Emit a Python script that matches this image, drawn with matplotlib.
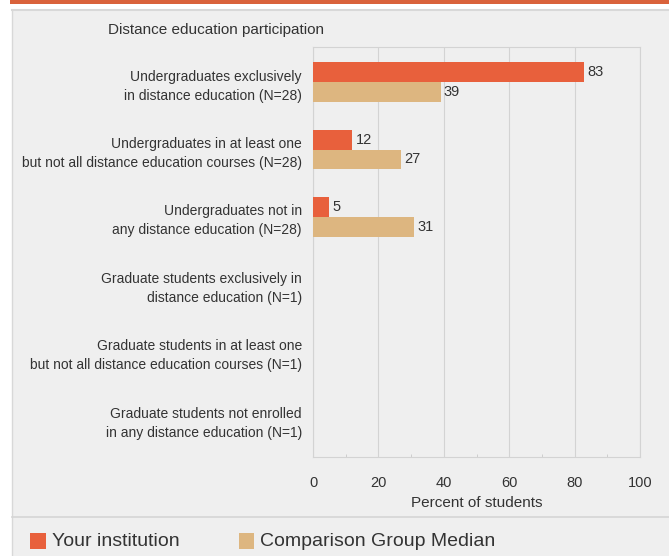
import matplotlib
matplotlib.use("Agg")
import matplotlib.pyplot as plt
from matplotlib.patches import Rectangle
from matplotlib.lines import Line2D
from matplotlib import font_manager

categories = [
    "Undergraduates exclusively\nin distance education (N=28)",
    "Undergraduates in at least one\nbut not all distance education courses (N=28)",
    "Undergraduates not in\nany distance education (N=28)",
    "Graduate students exclusively in\ndistance education (N=1)",
    "Graduate students in at least one\nbut not all distance education courses (N=1)",
    "Graduate students not enrolled\nin any distance education (N=1)",
]
your_institution = [83, 12, 5, None, None, None]
comparison_median = [39, 27, 31, None, None, None]
x_ticks = [0, 20, 40, 60, 80, 100]
series_names = ["Your institution", "Comparison Group Median"]
title = "Distance education participation"
xlabel = "Percent of students"

names = {f.name for f in font_manager.fontManager.ttflist}
fam = "Liberation Sans Narrow" if "Liberation Sans Narrow" in names else "Liberation Sans"
plt.rcParams['font.family'] = [fam, 'DejaVu Sans']

c_you = "#E8603C"
c_cmp = "#DDB680"
txt = "#333333"

fig = plt.figure(figsize=(6.69, 5.56), dpi=100)
fig.patch.set_facecolor("white")
W, H = 669, 556
# panel background
fig.patches.append(Rectangle((12/W, 0), 1 - 12/W, 1 - 10/H, transform=fig.transFigure,
                             facecolor="#EFEFEF", edgecolor="none", zorder=-10))
fig.lines.append(Line2D([12/W, 1], [1 - 10/H, 1 - 10/H], transform=fig.transFigure, color="#D8D8D8", lw=1.5, zorder=-5))
fig.lines.append(Line2D([12/W, 12/W], [0, 1 - 10/H], transform=fig.transFigure, color="#D8D8D8", lw=1, zorder=-5))
# top orange band
fig.patches.append(Rectangle((10/W, 1 - 4/H), 1 - 10/W, 4/H, transform=fig.transFigure,
                             facecolor="#D9623B", edgecolor="none", zorder=-4))
# separator line above legend
fig.lines.append(Line2D([12/W, 1], [1 - 517/H, 1 - 517/H], transform=fig.transFigure, color="#D5D5D5", lw=1.2, zorder=-5))

ax = fig.add_axes([313/W, 1 - 457/H, (640 - 313)/W, (457 - 47)/H])
ax.set_zorder(5)
ax.set_facecolor("none")
n = len(categories)
ys = list(range(n))
h = 0.296
for i in range(n):
    if your_institution[i] is not None:
        ax.barh(i - h/2, your_institution[i], height=h, color=c_you, zorder=3)
        ax.text(your_institution[i] + 1, i - h/2, str(your_institution[i]), va="center", ha="left",
                fontsize=10.5, color=txt)
    if comparison_median[i] is not None:
        ax.barh(i + h/2, comparison_median[i], height=h, color=c_cmp, zorder=3)
        ax.text(comparison_median[i] + 1, i + h/2, str(comparison_median[i]), va="center", ha="left",
                fontsize=10.5, color=txt)

ax.set_xlim(0, 100)
ax.set_ylim(5.56, -0.52)
ax.set_xticks(x_ticks)
ax.set_xticks(range(10, 100, 20), minor=True)
ax.set_xticklabels([str(t) for t in x_ticks], fontsize=10.5, color=txt)
ax.set_yticks(ys)
ax.set_yticklabels(categories, fontsize=10, color=txt, linespacing=1.45)
ax.tick_params(axis="y", length=0, pad=8)
ax.tick_params(axis="x", which="major", length=0, pad=14)
ax.tick_params(axis="x", which="minor", length=2, color="#C8C8C8", direction="in")
ax.grid(axis="x", color="#D3D3D3", lw=0.8, zorder=0)
for s in ["top", "right", "bottom", "left"]:
    ax.spines[s].set_color("#D3D3D3")
    ax.spines[s].set_linewidth(0.8)
ax.set_xlabel(xlabel, fontsize=11, color=txt, labelpad=4)

fig.text(108/W, 1 - 30/H, title, fontsize=11, color=txt, va="center", ha="left")

# legend
fig.patches.append(Rectangle((30/W, 1 - 549/H), 16/W, 16/H, transform=fig.transFigure,
                             facecolor=c_you, edgecolor="none"))
fig.text(52/W, 1 - 541/H, series_names[0], fontsize=14, color=txt, va="center", ha="left")
fig.patches.append(Rectangle((239/W, 1 - 549/H), 15/W, 16/H, transform=fig.transFigure,
                             facecolor=c_cmp, edgecolor="none"))
fig.text(260/W, 1 - 541/H, series_names[1], fontsize=14, color=txt, va="center", ha="left")

fig.savefig("out.png", dpi=100)
